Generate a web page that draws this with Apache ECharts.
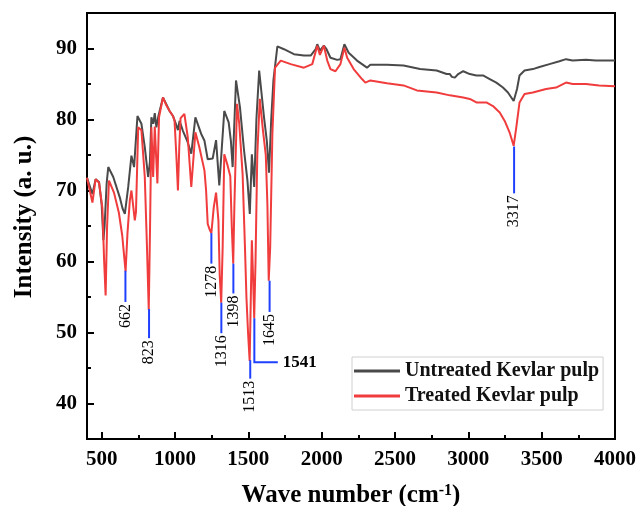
<!DOCTYPE html>
<meta charset="utf-8" />
<style>
html, body { margin: 0; padding: 0; background: #fff; }
#chart { width: 638px; height: 506px; }
</style>
<div id="chart"></div>
<script src="https://cdn.jsdelivr.net/npm/echarts@6.0.0/dist/echarts.min.js"></script>
<script>
// wave number ticks
const wnTicks = [500, 1000, 1500, 2000, 2500, 3000, 3500, 4000];
const wnMinor = [750, 1250, 1750, 2250, 2750, 3250, 3750];
const intTicks = [40, 50, 60, 70, 80, 90];
const intMinor = [45, 55, 65, 75, 85];

// untreated pulp (grey)
const untreatedWn = [400, 410, 437, 459, 482, 500, 512, 520, 534, 545, 579, 624, 642, 658, 681, 703, 721, 744, 771, 794,
  817, 829, 839, 852, 862, 873, 887, 918, 963, 986, 1009, 1020, 1031, 1054, 1083, 1111, 1139, 1178, 1201, 1223,
  1257, 1280, 1302, 1309, 1336, 1366, 1381, 1393, 1416, 1443, 1471, 1494, 1510, 1524, 1540, 1555, 1574, 1607, 1626, 1641,
  1656, 1671, 1698, 1743, 1811, 1879, 1925, 1959, 1970, 1988, 2015, 2033, 2060, 2106, 2128, 2155, 2184, 2241, 2309, 2332,
  2445, 2558, 2671, 2784, 2852, 2874, 2888, 2908, 2931, 2965, 3010, 3055, 3100, 3146, 3191, 3236, 3270, 3309, 3332, 3349,
  3383, 3440, 3485, 3553, 3621, 3666, 3711, 3802, 3869, 4000];
const untreatedInt = [71.8, 71.9, 69.5, 71.6, 71.2, 68.0, 63.0, 65.0, 71.0, 73.3, 71.9, 69.0, 67.5, 66.7, 70.5, 74.9, 73.3, 80.5, 79.4, 76.1,
  71.9, 74.0, 80.3, 79.4, 80.9, 78.9, 80.5, 83.1, 81.2, 80.5, 79.2, 78.5, 79.8, 78.4, 77.0, 75.2, 80.3, 78.0, 77.0, 74.4,
  74.5, 77.1, 70.7, 70.5, 81.2, 79.6, 77.0, 73.3, 85.5, 81.7, 75.6, 71.4, 66.7, 75.1, 70.5, 80.0, 86.9, 80.3, 77.0, 72.5,
  80.0, 85.5, 90.3, 89.9, 89.2, 89.0, 89.0, 89.9, 90.6, 89.7, 90.4, 89.9, 88.7, 88.4, 88.5, 90.6, 89.4, 88.3, 87.3, 87.7,
  87.7, 87.6, 87.1, 86.9, 86.4, 86.4, 86.0, 85.9, 86.4, 86.8, 86.4, 86.2, 86.2, 85.7, 85.2, 84.5, 83.8, 82.6, 84.3, 86.2,
  86.9, 87.1, 87.4, 87.8, 88.2, 88.5, 88.3, 88.4, 88.3, 88.3];

// treated pulp (red)
const treatedWn = [400, 410, 437, 459, 482, 505, 517, 527, 537, 550, 584, 617, 640, 663, 676, 692, 703, 726, 734, 749,
  771, 794, 809, 821, 830, 839, 851, 862, 880, 891, 918, 941, 963, 986, 997, 1009, 1020, 1029, 1038, 1064,
  1087, 1111, 1139, 1166, 1201, 1212, 1223, 1236, 1248, 1264, 1280, 1296, 1305, 1315, 1325, 1336, 1359, 1377, 1387, 1397,
  1405, 1423, 1438, 1461, 1477, 1487, 1498, 1509, 1517, 1524, 1532, 1540, 1549, 1561, 1578, 1600, 1619, 1630, 1639, 1649,
  1664, 1682, 1721, 1789, 1879, 1936, 1970, 1988, 2015, 2038, 2060, 2094, 2128, 2155, 2174, 2218, 2275, 2298, 2332, 2445,
  2558, 2649, 2784, 2874, 2965, 3010, 3055, 3123, 3168, 3214, 3248, 3281, 3309, 3327, 3349, 3383, 3440, 3530, 3598, 3666,
  3711, 3802, 3892, 4000];
const treatedInt = [71.8, 71.9, 68.3, 71.6, 71.1, 67.5, 60.0, 55.2, 65.0, 71.4, 69.7, 66.9, 63.7, 58.6, 64.0, 68.6, 70.0, 65.8, 67.0, 78.9,
  78.5, 71.9, 62.0, 53.2, 65.0, 78.9, 71.9, 79.0, 71.0, 80.3, 83.1, 82.0, 81.2, 80.5, 79.8, 75.0, 70.0, 76.0, 80.2, 80.8,
  77.5, 70.5, 78.2, 76.1, 72.8, 70.0, 65.3, 64.5, 64.0, 67.6, 69.7, 65.8, 58.0, 54.2, 62.0, 75.1, 73.5, 72.0, 65.0, 59.7,
  68.0, 82.2, 79.4, 72.3, 62.0, 55.0, 50.0, 46.0, 55.0, 63.0, 58.0, 52.0, 60.0, 75.0, 82.9, 78.4, 75.0, 68.0, 57.3, 62.0,
  78.0, 87.3, 88.3, 87.8, 87.3, 87.8, 90.4, 89.1, 90.4, 88.3, 87.1, 86.8, 87.8, 90.1, 88.7, 87.1, 85.7, 85.2, 85.5, 85.1,
  84.8, 84.1, 83.8, 83.4, 83.1, 82.9, 82.4, 82.4, 81.9, 81.0, 79.8, 78.2, 76.3, 78.9, 82.4, 83.6, 83.8, 84.3, 84.5, 85.2,
  85.0, 85.0, 84.8, 84.7];

// peak markers: position, line top, line end, elbow end (0 = none), text
const peakAt = [662, 823, 1248, 1316, 1398, 1513, 1541, 1645, 3312];
const peakTop = [58.7, 53.3, 64.0, 54.2, 59.7, 46.1, 52.0, 57.3, 76.2];
const peakEnd = [54.3, 49.2, 59.7, 49.9, 55.5, 43.5, 45.8, 52.9, 69.6];
const peakElbow = [0, 0, 0, 0, 0, 0, 1701, 0, 0];
const peakText = ['662', '823', '1278', '1316', '1398', '1513', '1541', '1645', '3317'];

const zip = (a, b) => a.map((v, i) => [v, b[i]]);
const FONT = '"Liberation Serif", "Times New Roman", serif';

const chart = echarts.init(document.getElementById('chart'));

const minorX = {
  type: 'value', min: 400, max: 4000, position: 'bottom',
  axisLine: { show: false }, axisLabel: { show: false }, splitLine: { show: false },
  axisTick: { inside: true, length: 4, customValues: wnMinor, lineStyle: { color: '#000', width: 2 } }
};
const minorY = {
  type: 'value', min: 35, max: 95, position: 'left',
  axisLine: { show: false }, axisLabel: { show: false }, splitLine: { show: false },
  axisTick: { inside: true, length: 4, customValues: intMinor, lineStyle: { color: '#000', width: 2 } }
};

chart.setOption({
  animation: false,
  grid: {
    left: 87, right: 23, top: 13, bottom: 67, outerBoundsMode: 'none',
    show: true, borderColor: '#000', borderWidth: 2
  },
  xAxis: [{
    type: 'value', min: 400, max: 4000,
    name: 'Wave number (cm{sup|-1})',
    nameLocation: 'middle', nameGap: 44,
    nameTextStyle: {
      fontFamily: FONT, fontWeight: 'bold', fontSize: 25, color: '#000',
      rich: { sup: { fontFamily: FONT, fontWeight: 'bold', fontSize: 16, verticalAlign: 'top', color: '#000' } }
    },
    axisLine: { lineStyle: { color: '#000', width: 2 } },
    axisTick: { inside: true, length: 7, customValues: wnTicks, lineStyle: { color: '#000', width: 2 } },
    axisLabel: {
      customValues: wnTicks, margin: 10, formatter: v => String(v),
      fontFamily: FONT, fontWeight: 'bold', fontSize: 21, color: '#000'
    },
    splitLine: { show: false }
  }, minorX],
  yAxis: [{
    type: 'value', min: 35, max: 95,
    name: 'Intensity (a. u.)',
    nameLocation: 'middle', nameGap: 50,
    nameTextStyle: { fontFamily: FONT, fontWeight: 'bold', fontSize: 25, color: '#000', padding: [0, 0, 0, 18] },
    axisLine: { lineStyle: { color: '#000', width: 2 } },
    axisTick: { inside: true, length: 7, customValues: intTicks, lineStyle: { color: '#000', width: 2 } },
    axisLabel: {
      customValues: intTicks, margin: 10, formatter: v => String(v),
      fontFamily: FONT, fontWeight: 'bold', fontSize: 21, color: '#000'
    },
    splitLine: { show: false }
  }, minorY],
  legend: {
    orient: 'vertical', left: 352, top: 357,
    padding: [4, 4, 4, 2], itemGap: 5,
    itemWidth: 46, itemHeight: 3, icon: 'rect',
    borderColor: '#d0d0d0', borderWidth: 1,
    textStyle: { fontFamily: FONT, fontWeight: 'bold', fontSize: 20, color: '#111' },
    data: ['Untreated Kevlar pulp', 'Treated Kevlar pulp']
  },
  series: [
    {
      name: 'Untreated Kevlar pulp', type: 'line', symbol: 'none',
      data: zip(untreatedWn, untreatedInt),
      itemStyle: { color: '#4a4a4a' },
      lineStyle: { color: '#4a4a4a', width: 2 }
    },
    {
      name: 'Treated Kevlar pulp', type: 'line', symbol: 'none',
      data: zip(treatedWn, treatedInt),
      itemStyle: { color: '#f03c3c' },
      lineStyle: { color: '#f03c3c', width: 2 }
    },
    {
      type: 'custom', silent: true, z: 5,
      encode: { x: 0, y: 1 },
      data: peakAt.map((x, i) => [x, peakTop[i], peakEnd[i], peakElbow[i]]),
      renderItem: (params, api) => {
        const i = params.dataIndex;
        const p1 = api.coord([api.value(0), api.value(1)]);
        const p2 = api.coord([api.value(0), api.value(2)]);
        const pts = [p1, p2];
        const elbow = api.value(3);
        let label;
        if (elbow > 0) {
          const p3 = api.coord([elbow, api.value(2)]);
          pts.push(p3);
          label = {
            type: 'text', x: p3[0] + 5, y: p3[1],
            style: { text: peakText[i], font: 'bold 17px ' + FONT, fill: '#000', align: 'left', verticalAlign: 'middle' }
          };
        } else {
          label = {
            type: 'text', x: p2[0], y: p2[1] + 2, rotation: Math.PI / 2,
            style: { text: peakText[i], font: '16px ' + FONT, fill: '#000', align: 'right', verticalAlign: 'middle' }
          };
        }
        return {
          type: 'group',
          children: [
            { type: 'polyline', shape: { points: pts }, style: { stroke: '#2040ff', lineWidth: 2, fill: null } },
            label
          ]
        };
      }
    }
  ]
});
</script>
